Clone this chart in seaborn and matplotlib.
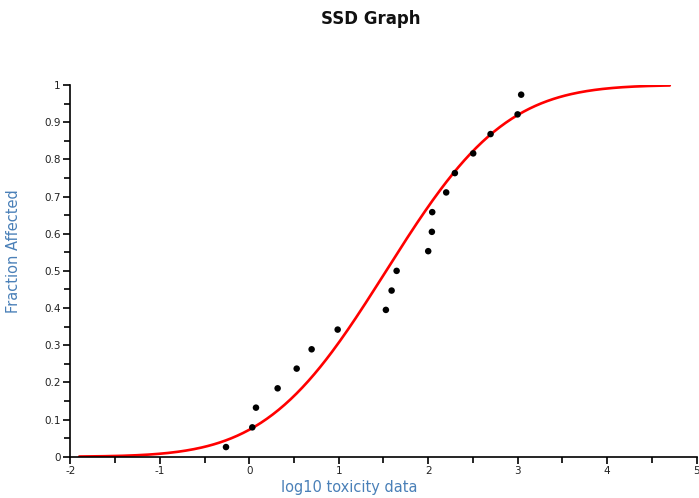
import math
import numpy as np
import pandas as pd
import seaborn as sns
import matplotlib
matplotlib.use("Agg")
import matplotlib.pyplot as plt
from matplotlib.ticker import MultipleLocator, FuncFormatter

# observed toxicity data (log10) and plotted fraction affected
log_tox = [-0.26, 0.034, 0.075, 0.317, 0.530, 0.697, 0.988, 1.527, 1.591, 1.647,
           2.000, 2.041, 2.045, 2.201, 2.298, 2.503, 2.697, 2.999, 3.039]
frac_affected = [0.026, 0.079, 0.132, 0.184, 0.237, 0.289, 0.342, 0.395, 0.447, 0.500,
                 0.553, 0.605, 0.658, 0.711, 0.763, 0.816, 0.868, 0.921, 0.974]

# fitted log-normal SSD
mu = 1.53
sigma = 1.05
x_start, x_end = -1.9, 4.7

xs = np.linspace(x_start, x_end, 300)
ys = [0.5 * (1 + math.erf((v - mu) / (sigma * math.sqrt(2)))) for v in xs]
df_fit = pd.DataFrame({"x": xs, "y": ys})
df_pts = pd.DataFrame({"x": log_tox, "y": frac_affected})

sns.set_style("ticks")
tick_font = ["Liberation Sans Narrow", "DejaVu Sans"]

fig = plt.figure(figsize=(6.99, 4.98), dpi=100)
ax = fig.add_axes([0.1006, 0.0829, 0.8960, 0.7464])

sns.lineplot(data=df_fit, x="x", y="y", color="#ff0000", linewidth=1.9, ax=ax)
sns.scatterplot(data=df_pts, x="x", y="y", color="black", s=22, edgecolor="none", ax=ax, zorder=3)

ax.set_xlim(-2, 5)
ax.set_ylim(0, 1)
ax.xaxis.set_major_locator(MultipleLocator(1))
ax.xaxis.set_minor_locator(MultipleLocator(0.5))
ax.yaxis.set_major_locator(MultipleLocator(0.1))
ax.yaxis.set_minor_locator(MultipleLocator(0.05))
ax.xaxis.set_major_formatter(FuncFormatter(lambda v, p: f"{v:.0f}"))
ax.yaxis.set_major_formatter(FuncFormatter(lambda v, p: f"{round(v, 1):g}"))

ax.tick_params(which="major", length=5, width=1.2, color="black", labelsize=7.5, pad=2, labelcolor="#222222")
ax.tick_params(which="minor", length=4, width=1.2, color="black")
for lbl in ax.get_xticklabels() + ax.get_yticklabels():
    lbl.set_family(tick_font)

for s in ["top", "right"]:
    ax.spines[s].set_visible(False)
for s in ["left", "bottom"]:
    ax.spines[s].set_linewidth(1.2)
    ax.spines[s].set_color("black")

ax.set_xlabel("")
ax.set_ylabel("")
fig.text(0.5, 0.022, "log10 toxicity data", ha="center", va="center", fontsize=10.5, color="#4a80b8")
fig.text(0.02, 0.495, "Fraction Affected", ha="center", va="center", rotation=90, fontsize=10.5, color="#4a80b8")
fig.text(0.53, 0.962, "SSD Graph", ha="center", va="center", fontsize=12, fontweight="bold", color="#111111")

fig.savefig("out.png", dpi=100, facecolor="white")
